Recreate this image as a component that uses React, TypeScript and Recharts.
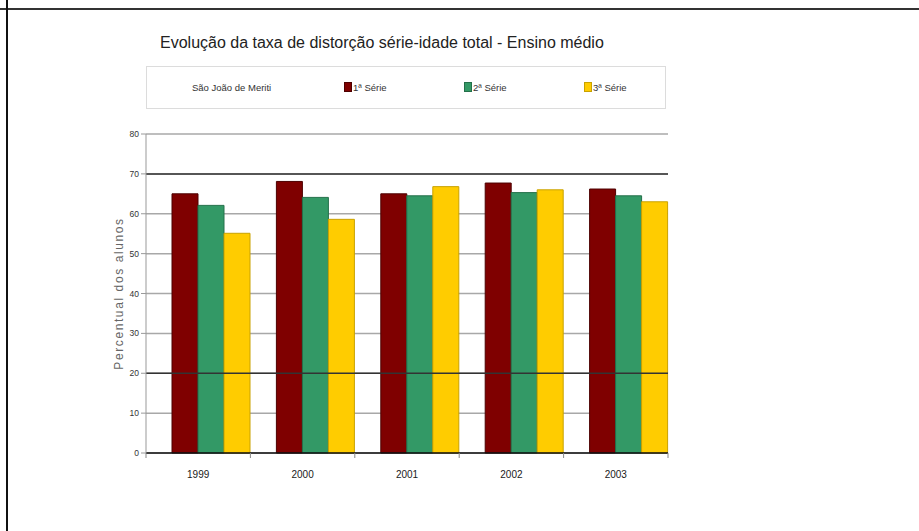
import { Bar, BarChart, CartesianGrid, ReferenceLine, XAxis, YAxis } from 'recharts';

const years = ['1999', '2000', '2001', '2002', '2003'];
const serie1 = [65.0, 68.1, 65.0, 67.7, 66.2];
const serie2 = [62.1, 64.1, 64.5, 65.3, 64.5];
const serie3 = [55.1, 58.6, 66.8, 66.0, 63.0];
const yTicks = [0, 10, 20, 30, 40, 50, 60, 70, 80];
const darkLines = [70, 20];

const seriesNames = ['1ª Série', '2ª Série', '3ª Série'];
const seriesColors = ['#7f0000', '#339966', '#ffcc00'];
const seriesStrokes = ['#4d0000', '#24704a', '#c9a200'];

const W = 919;
const H = 531;
const PLOT_LEFT = 146;
const PLOT_RIGHT = 668;
const PLOT_TOP = 134;
const PLOT_BOTTOM = 453;
const BAND = (PLOT_RIGHT - PLOT_LEFT) / years.length;
const FONT = '"Liberation Sans", Arial, sans-serif';

const data = years.map((year, i) => ({
  year,
  pad: null,
  s1: serie1[i],
  s2: serie2[i],
  s3: serie3[i],
}));

// label centred in the band, tick marks on the band edges (Excel style)
function YearTick(props: any) {
  const { x, payload, index } = props;
  const left = x - BAND / 2;
  return (
    <g>
      <line x1={left} y1={PLOT_BOTTOM} x2={left} y2={PLOT_BOTTOM + 5} stroke="#888" />
      {index === years.length - 1 && (
        <line x1={left + BAND} y1={PLOT_BOTTOM} x2={left + BAND} y2={PLOT_BOTTOM + 5} stroke="#888" />
      )}
      <text x={x} y={PLOT_BOTTOM + 25} textAnchor="middle" fontSize={10} fill="#1a1a1a" fontFamily={FONT}>
        {payload.value}
      </text>
    </g>
  );
}

function Legend() {
  const items = [343, 463, 583];
  return (
    <div
      style={{
        position: 'absolute',
        left: PLOT_LEFT,
        top: 66,
        width: 520,
        height: 43,
        border: '1px solid #dcdcdc',
        boxSizing: 'border-box',
        fontFamily: FONT,
        fontSize: 9.5,
        color: '#333',
      }}
    >
      <span style={{ position: 'absolute', left: 45, top: 15 }}>São João de Meriti</span>
      {seriesNames.map((name, i) => (
        <span key={name} style={{ position: 'absolute', left: items[i] - PLOT_LEFT, top: 15 }}>
          <span
            style={{
              display: 'inline-block',
              width: 6,
              height: 8,
              background: seriesColors[i],
              border: `1px solid ${seriesStrokes[i]}`,
              marginRight: 1,
              verticalAlign: -1,
            }}
          />
          {name}
        </span>
      ))}
    </div>
  );
}

export default function App() {
  return (
    <div style={{ position: 'absolute', left: 0, top: 0, width: W, height: H, background: '#fff' }}>
      <div style={{ position: 'absolute', left: 0, top: 8, width: W, height: 2, background: '#333' }} />
      <div style={{ position: 'absolute', left: 6, top: 0, width: 2, height: H, background: '#111' }} />
      <div
        style={{
          position: 'absolute',
          left: 160,
          top: 34,
          fontFamily: FONT,
          fontSize: 16,
          color: '#222',
          whiteSpace: 'nowrap',
        }}
      >
        Evolução da taxa de distorção série-idade total - Ensino médio
      </div>
      <Legend />
      <div style={{ position: 'absolute', left: 0, top: 0 }}>
        <BarChart
          width={W}
          height={H}
          data={data}
          barCategoryGap={0}
          barGap={0}
          margin={{ top: PLOT_TOP, right: W - PLOT_RIGHT, left: PLOT_LEFT - 40, bottom: H - PLOT_BOTTOM - 30 }}
        >
          <CartesianGrid horizontal vertical={false} stroke="#a8a8a8" strokeWidth={1.5} />
          {darkLines.map((v) => (
            <ReferenceLine key={v} y={v} stroke="#333" strokeWidth={1.5} />
          ))}
          <XAxis
            dataKey="year"
            height={30}
            tick={<YearTick />}
            tickLine={false}
            axisLine={{ stroke: '#111', strokeWidth: 1.5 }}
            interval={0}
          />
          <YAxis
            width={40}
            domain={[0, 80]}
            ticks={yTicks}
            interval={0}
            tick={{ fontSize: 8.5, fill: '#333', fontFamily: FONT }}
            tickSize={5}
            tickLine={{ stroke: '#999' }}
            axisLine={{ stroke: '#999' }}
            label={{
              value: 'Percentual dos alunos',
              angle: -90,
              position: 'insideLeft',
              dx: 8,
              dy: 0,
              style: { fontSize: 12, fill: '#666', fontFamily: FONT, textAnchor: 'middle', letterSpacing: 1.6 },
            }}
          />
          <Bar dataKey="pad" fill="none" isAnimationActive={false} />
          <Bar dataKey="s1" name={seriesNames[0]} fill={seriesColors[0]} stroke={seriesStrokes[0]} isAnimationActive={false} />
          <Bar dataKey="s2" name={seriesNames[1]} fill={seriesColors[1]} stroke={seriesStrokes[1]} isAnimationActive={false} />
          <Bar dataKey="s3" name={seriesNames[2]} fill={seriesColors[2]} stroke={seriesStrokes[2]} isAnimationActive={false} />
        </BarChart>
      </div>
    </div>
  );
}
